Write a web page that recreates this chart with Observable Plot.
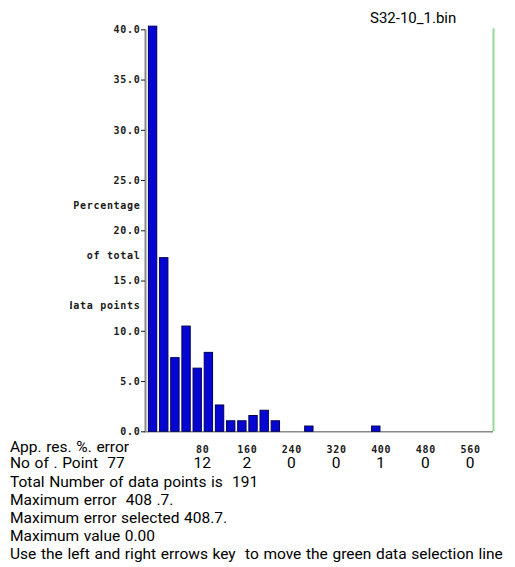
<!DOCTYPE html>
<html>
<head>
<meta charset="utf-8">
<script src="https://cdn.jsdelivr.net/npm/d3@7"></script>
<script src="https://cdn.jsdelivr.net/npm/@observablehq/plot@0.6"></script>
<style>
  body { margin: 0; background: #fff; }
  #wrap { position: relative; width: 515px; height: 567px; overflow: hidden; font-family: Roboto, sans-serif; color: #000; }
  #chart { position: absolute; left: 70px; top: 0; width: 445px; overflow: hidden; }
  #chart svg g:not([font-family^="Roboto"]) text { font-weight: bold; letter-spacing: 0.7px; }
  .t { position: absolute; white-space: pre; font-size: 15.5px; line-height: 18px; word-spacing: 0.8px; }
  #lines { line-height: 18px; }
</style>
</head>
<body>
<div id="wrap">
  <div id="chart"></div>
  <div class="t" style="left:370px; top:9px; font-size:15px; word-spacing:0;">S32-10_1.bin</div>
  <div class="t" style="left:10px; top:437.5px;">App. res. %. error</div>
  <div class="t" id="pointsRow" style="left:10px; top:454px;"></div>
  <div class="t" id="lines" style="left:10px; top:472.5px;"></div>
</div>
<script>
// Histogram of apparent resistivity % error, bins 20 units wide
const binWidth = 20;
const binCounts = [77, 33, 14, 20, 12, 15, 5, 2, 2, 3, 4, 2, 0, 0, 1, 0, 0, 0, 0, 0, 1];
const totalPoints = 191;
const xDomain = [0, 620];
const selectionLine = 620;
const xTicks = [80, 160, 240, 320, 400, 480, 560];
const yTicks = [0, 5, 10, 15, 20, 25, 30, 35, 40];
const yCaptions = ["Percentage", "of total", "data points"];
const yCaptionAt = [22.5, 17.5, 12.5];
const maxError = "408 .7.";
const maxErrorSelected = "408.7.";
const maxValue = "0.00";

const bins = binCounts
  .map((n, i) => ({lo: i * binWidth, hi: (i + 1) * binWidth, pct: n / totalPoints * 100}))
  .filter(d => d.pct > 0);
const captions = yCaptions.map((label, i) => ({label, v: yCaptionAt[i]}));
const countAt = v => binCounts[v / binWidth] ?? 0;

const chart = Plot.plot({
  width: 445,
  height: 472,
  marginLeft: 77,
  marginRight: 22,
  marginTop: 29.3,
  marginBottom: 40.7,
  x: {domain: xDomain},
  y: {domain: [0, 40]},
  style: {fontFamily: "'DejaVu Sans Mono', monospace", fontSize: "10px", color: "#1a1a1a", background: "#fff"},
  marks: [
    Plot.ruleX([0], {y1: 0, y2: 40, stroke: "#8a8a8a", strokeWidth: 2, dx: -2}),
    Plot.ruleY([0], {x1: xDomain[0], x2: xDomain[1], stroke: "#8a8a8a", strokeWidth: 1.5, insetLeft: -3}),
    Plot.rectY(bins, {x1: "lo", x2: "hi", y: "pct", insetLeft: 1.4, insetRight: 1.4, fill: "#0606d2", stroke: "#00005a", strokeWidth: 1}),
    Plot.ruleX([selectionLine], {y1: 0, y2: 40.1, stroke: "#93d993", strokeWidth: 2}),
    Plot.axisY({ticks: yTicks, tickFormat: d => d.toFixed(1), tickSize: 4, tickPadding: 1, dx: -2, label: null}),
    Plot.text(captions, {y: "v", text: "label", frameAnchor: "left", textAnchor: "end", dx: -7}),
    Plot.axisX({ticks: xTicks, tickFormat: d => String(d), tickSize: 0, tickPadding: 14, dx: 10.5, label: null}),
    Plot.text(xTicks, {x: d => d, text: d => String(countAt(d)), frameAnchor: "bottom", dy: 36, dx: 10,
      fontFamily: "Roboto", fontSize: 15.5, fontWeight: "normal", fill: "#000"})
  ]
});
document.getElementById("chart").append(chart);

document.getElementById("pointsRow").textContent = "No of . Point  " + binCounts[0];
document.getElementById("lines").textContent = [
  "Total Number of data points is  " + totalPoints,
  "Maximum error  " + maxError,
  "Maximum error selected " + maxErrorSelected,
  "Maximum value " + maxValue,
  "Use the left and right errows key  to move the green data selection line"
].join("\n");
</script>
</body>
</html>
